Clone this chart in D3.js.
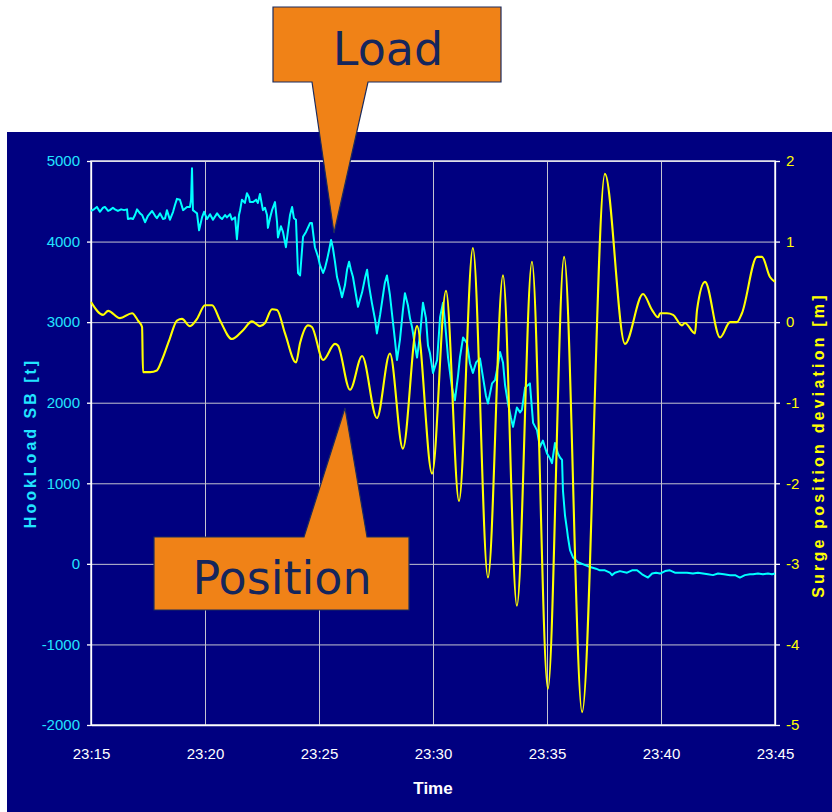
<!DOCTYPE html>
<html><head><meta charset="utf-8">
<script src="https://cdn.jsdelivr.net/npm/d3@7"></script>
<style>html,body{margin:0;padding:0;background:#fff}svg{display:block}</style>
</head><body><svg id="c" width="832" height="812"></svg>
<script>
// ---------- data (minutes after 23:15) ----------
const hookMinutes = [0,0.13,0.26,0.39,0.53,0.61,0.75,0.83,0.96,1.05,1.18,1.32,1.45,1.58,1.62,1.75,1.84,1.93,2.02,2.15,2.24,2.37,2.50,2.68,2.81,2.89,3.03,3.16,3.25,3.33,3.46,3.60,3.68,3.77,3.90,4.04,4.21,4.34,4.39,4.43,4.47,4.56,4.65,4.74,4.87,4.96,5.09,5.22,5.35,5.53,5.66,5.75,5.88,5.96,6.10,6.18,6.32,6.40,6.49,6.54,6.62,6.75,6.84,6.93,6.97,7.11,7.24,7.32,7.41,7.54,7.63,7.72,7.76,7.85,7.94,8.07,8.16,8.20,8.33,8.42,8.55,8.64,8.73,8.82,8.90,8.99,9.08,9.17,9.30,9.43,9.61,9.69,9.82,9.96,10.04,10.18,10.26,10.35,10.44,10.53,10.61,10.70,10.79,10.92,11.01,11.14,11.23,11.32,11.40,11.49,11.62,11.71,11.89,12.02,12.11,12.19,12.32,12.46,12.54,12.68,12.81,12.89,12.98,13.11,13.20,13.33,13.42,13.55,13.68,13.77,13.90,13.99,14.08,14.21,14.30,14.43,14.56,14.69,14.78,14.87,15.00,15.18,15.31,15.44,15.53,15.66,15.83,15.96,16.10,16.18,16.32,16.49,16.62,16.75,16.89,17.06,17.19,17.32,17.41,17.59,17.72,17.85,17.94,18.07,18.16,18.29,18.42,18.51,18.68,18.82,18.90,19.04,19.17,19.25,19.39,19.56,19.69,19.82,20.00,20.13,20.22,20.35,20.48,20.57,20.66,20.70,20.79,20.88,20.92,21.01,21.14,21.36,21.62,21.89,22.15,22.32,22.54,22.76,22.85,22.98,23.20,23.51,23.73,23.95,24.17,24.43,24.61,24.78,24.96,25.18,25.39,25.61,25.83,26.14,26.40,26.62,26.84,27.06,27.28,27.50,27.76,28.03,28.25,28.46,28.68,28.90,29.04,29.25,29.47,29.69,29.87,30.00];
const hookLoad = [4380,4400,4430,4370,4420,4430,4380,4390,4420,4400,4380,4400,4390,4400,4280,4290,4280,4330,4400,4350,4330,4240,4320,4380,4320,4290,4350,4280,4290,4390,4270,4370,4450,4530,4520,4390,4430,4430,4520,4910,4390,4370,4350,4140,4300,4370,4280,4340,4270,4350,4300,4280,4330,4300,4340,4270,4300,4030,4330,4390,4520,4480,4600,4550,4490,4490,4520,4480,4590,4390,4420,4330,4170,4290,4390,4490,4240,4050,4190,4120,3930,4140,4330,4430,4290,4270,3610,3580,4060,4120,4230,4230,3930,3810,3710,3610,3670,3770,3890,4020,3920,3750,3560,3420,3310,3460,3650,3750,3650,3560,3340,3190,3370,3550,3650,3460,3240,3030,2860,3090,3340,3490,3580,3340,3110,2780,2530,2780,3150,3360,3210,3050,2940,2710,2560,2840,3240,3050,2710,2610,2370,2530,3060,3240,2990,2560,2190,2030,2340,2560,2810,2740,2490,2370,2500,2550,2320,2090,1990,2240,2280,2470,2630,2500,2220,1990,1810,1700,1940,1880,1910,2190,2220,2240,1750,1660,1450,1530,1370,1310,1250,1500,1370,1320,1290,910,600,420,330,170,80,20,-10,-40,-60,-80,-80,-110,-140,-110,-90,-110,-80,-80,-130,-170,-120,-110,-120,-90,-80,-110,-110,-110,-120,-110,-120,-130,-140,-120,-130,-140,-140,-170,-140,-130,-130,-120,-130,-120,-130,-120];
const surgeMinutes = [0.00,0.53,0.75,1.27,1.80,2.06,2.24,2.28,2.59,2.89,3.11,3.46,3.77,3.99,4.34,4.65,5.00,5.31,5.66,6.18,6.67,7.06,7.41,7.63,7.94,8.16,8.51,8.99,9.17,9.52,9.69,10.18,10.70,10.83,11.36,11.89,12.54,13.11,13.68,14.30,14.96,15.57,16.14,16.75,17.41,18.07,18.68,19.34,20.04,20.75,21.54,22.54,23.42,24.21,24.61,24.87,24.96,25.26,25.53,25.92,26.05,26.49,26.58,26.93,27.59,28.03,28.33,28.55,29.21,29.43,29.78,30.00];
const surgePosition = [0.25,0.09,0.14,0.05,0.11,0.02,-0.06,-0.62,-0.62,-0.60,-0.47,-0.20,0.02,0.04,-0.05,0.04,0.21,0.21,0.02,-0.21,-0.10,0.01,-0.05,-0.01,0.16,0.15,-0.14,-0.50,-0.26,-0.04,-0.06,-0.47,-0.27,-0.29,-0.84,-0.42,-1.19,-0.39,-1.57,-0.05,-1.88,0.39,-2.22,0.92,-3.17,0.58,-3.52,0.75,-4.55,0.81,-4.84,1.84,-0.27,0.35,0.15,0.06,0.11,0.11,0.09,-0.04,-0.01,-0.14,0.15,0.50,-0.19,0.00,0.00,0.11,0.81,0.81,0.56,0.50];
const loadTicks = [-2000,-1000,0,1000,2000,3000,4000,5000];
const positionTicks = [-5,-4,-3,-2,-1,0,1,2];
const timeTickLabels = ["23:15","23:20","23:25","23:30","23:35","23:40","23:45"];
const leftTitle = "HookLoad SB [t]";
const rightTitle = "Surge position deviation [m]";
const bottomTitle = "Time";
const calloutTexts = ["Load","Position"];

// ---------- chart ----------
const svg = d3.select("#c");
const parse = d3.timeParse("%H:%M");
const t0 = parse(timeTickLabels[0]);
const tEnd = parse(timeTickLabels[timeTickLabels.length-1]);
const toDate = m => new Date(t0.getTime() + m*60000);
const L = 91, R = 775, T = 161, B = 725;
const x = d3.scaleTime().domain([t0, tEnd]).range([L, R]);
const yL = d3.scaleLinear().domain([-2000, 5000]).range([B, T]);
const yR = d3.scaleLinear().domain([-5, 2]).range([B, T]);
const font = "'Liberation Sans', Arial, sans-serif";
const plain = d => String(d);

svg.append("rect").attr("x",7).attr("y",132).attr("width",825).attr("height",680).attr("fill","#000080");

// grid
const grid = svg.append("g").attr("stroke","#c4c4d0").attr("stroke-width",1);
grid.selectAll("line.h").data(loadTicks).join("line")
  .attr("x1",L).attr("x2",R).attr("y1",d=>yL(d)+0.5).attr("y2",d=>yL(d)+0.5);
grid.selectAll("line.v").data(timeTickLabels.map(parse)).join("line")
  .attr("x1",d=>Math.round(x(d))+0.5).attr("x2",d=>Math.round(x(d))+0.5).attr("y1",T).attr("y2",B);
svg.append("rect").attr("x",L).attr("y",T).attr("width",R-L).attr("height",B-T)
  .attr("fill","none").attr("stroke","#e6e6ee").attr("stroke-width",1.5);

// axes
const axL = svg.append("g").attr("transform",`translate(${L},0)`)
  .call(d3.axisLeft(yL).tickValues(loadTicks).tickSize(4).tickSizeOuter(0).tickPadding(7).tickFormat(plain));
axL.selectAll("text").attr("fill","#22e4ff").style("font",`15px ${font}`);
const axR = svg.append("g").attr("transform",`translate(${R},0)`)
  .call(d3.axisRight(yR).tickValues(positionTicks).tickSize(5).tickSizeOuter(0).tickPadding(6).tickFormat(plain));
axR.selectAll("text").attr("fill","#ffff00").style("font",`15px ${font}`);
const axB = svg.append("g").attr("transform",`translate(0,${B})`)
  .call(d3.axisBottom(x).tickValues(timeTickLabels.map(parse)).tickSize(0).tickSizeOuter(0).tickPadding(23).tickFormat(d3.timeFormat("%H:%M")));
axB.selectAll("text").attr("fill","#ffffff").style("font",`15px ${font}`);
[axL,axR,axB].forEach(a=>{a.selectAll("path,line").attr("stroke","#ffffff").attr("stroke-width",1.3);});

// titles
svg.append("text").attr("transform","translate(36,443) rotate(-90)").attr("text-anchor","middle")
  .attr("fill","#22e4ff").style("font",`bold 16px ${font}`).style("letter-spacing","3px").text(leftTitle);
svg.append("text").attr("transform","translate(824,445) rotate(-90)").attr("text-anchor","middle")
  .attr("fill","#ffff00").style("font",`bold 16px ${font}`).style("letter-spacing","3.2px").text(rightTitle);
svg.append("text").attr("x",433).attr("y",794).attr("text-anchor","middle")
  .attr("fill","#ffffff").style("font",`bold 17px ${font}`).text(bottomTitle);

// series
const hook = hookMinutes.map((m,i)=>({t:toDate(m), v:hookLoad[i]}));
const surge = surgeMinutes.map((m,i)=>({t:toDate(m), v:surgePosition[i]}));
svg.append("path").datum(hook).attr("fill","none").attr("stroke","#00ffff").attr("stroke-width",2)
  .attr("stroke-linejoin","round")
  .attr("d", d3.line().x(d=>x(d.t)).y(d=>yL(d.v)));
svg.append("path").datum(surge).attr("fill","none").attr("stroke","#ffff00").attr("stroke-width",2.1)
  .attr("d", d3.line().x(d=>x(d.t)).y(d=>yR(d.v)).curve(d3.curveMonotoneX));

// callouts
const cfill = "#f08217", cstroke = "#1b2b5e", ctext = "#15265c";
svg.append("path").attr("d","M273,7 L501,7 L501,82 L368,82 L334,233 L312,82 L273,82 Z")
  .attr("fill",cfill).attr("stroke",cstroke).attr("stroke-width",1.2);
svg.append("text").attr("x",388).attr("y",65).attr("text-anchor","middle").attr("fill",ctext)
  .style("font","46px 'DejaVu Sans', Verdana, sans-serif").text(calloutTexts[0]);
svg.append("path").attr("d","M154,537 L304,537 L345,408 L367,537 L409,537 L409,610 L154,610 Z")
  .attr("fill",cfill).attr("stroke",cstroke).attr("stroke-width",1.2);
svg.append("text").attr("x",282).attr("y",594).attr("text-anchor","middle").attr("fill",ctext)
  .style("font","46px 'DejaVu Sans', Verdana, sans-serif").text(calloutTexts[1]);
</script></body></html>
